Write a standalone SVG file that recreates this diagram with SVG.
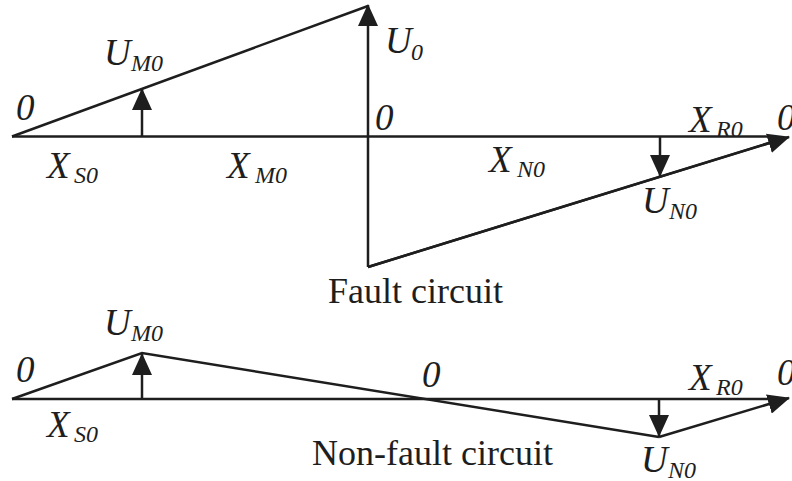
<svg xmlns="http://www.w3.org/2000/svg" width="792" height="481" viewBox="0 0 792 481">
<defs>
<marker id="ah" markerUnits="userSpaceOnUse" markerWidth="22" markerHeight="20" viewBox="0 0 22 20" refX="21" refY="10" orient="auto">
<path d="M0,0 L22,10 L0,20 z" fill="#1e1e1e"/>
</marker>
<style>
.ln{stroke:#1e1e1e;stroke-width:2.5;fill:none;stroke-linejoin:miter}
.ar{stroke:#1e1e1e;stroke-width:2.5;fill:none;marker-end:url(#ah)}
.lb{font-family:"Liberation Serif","Times New Roman",serif;font-style:italic;font-size:37px;fill:#1e1e1e}
.sb{font-size:24px}
.tt{font-family:"Liberation Serif","Times New Roman",serif;font-size:36px;fill:#1e1e1e}
</style>
</defs>
<rect width="792" height="481" fill="#ffffff"/>
<g id="connectors">
<!-- fault circuit -->
<line class="ln" x1="12" y1="136.5" x2="776" y2="136.5"/>
<line class="ln" x1="12" y1="136.5" x2="368" y2="6"/>
<line class="ar" x1="368" y1="267" x2="368" y2="5"/>
<line class="ln" x1="368" y1="267" x2="772" y2="142"/>
<line class="ar" x1="368" y1="267" x2="789" y2="137"/>
<line class="ar" x1="142" y1="136.5" x2="142" y2="89"/>
<line class="ar" x1="660" y1="136.5" x2="660" y2="176"/>
<!-- non-fault circuit -->
<line class="ln" x1="12" y1="399" x2="776" y2="399"/>
<polyline class="ln" points="12,399 142,353 659,437"/>
<line class="ar" x1="659" y1="437" x2="789" y2="398"/>
<line class="ar" x1="142" y1="399" x2="142" y2="354"/>
<line class="ar" x1="659" y1="399" x2="659" y2="436"/>
</g>
<g id="fault-labels">
<text class="lb" x="16" y="120">0</text>
<text class="lb" x="104" y="65">U<tspan class="sb" x="131" y="71">M0</tspan></text>
<text class="lb" x="385" y="53">U<tspan class="sb" x="411" y="60">0</tspan></text>
<text class="lb" x="375" y="130">0</text>
<text class="lb" x="47" y="178">X<tspan class="sb" x="74" y="183">S0</tspan></text>
<text class="lb" x="227" y="178">X<tspan class="sb" x="255" y="183">M0</tspan></text>
<text class="lb" x="489" y="172">X<tspan class="sb" x="517" y="177">N0</tspan></text>
<text class="lb" x="689" y="132">X<tspan class="sb" x="716" y="137">R0</tspan></text>
<text class="lb" x="777" y="130">0</text>
<text class="lb" x="642" y="213">U<tspan class="sb" x="669" y="219">N0</tspan></text>
<text class="tt" x="328" y="303">Fault circuit</text>
</g>
<g id="nonfault-labels">
<text class="lb" x="16" y="382">0</text>
<text class="lb" x="104" y="335">U<tspan class="sb" x="131" y="341">M0</tspan></text>
<text class="lb" x="422" y="387">0</text>
<text class="lb" x="689" y="390">X<tspan class="sb" x="716" y="395">R0</tspan></text>
<text class="lb" x="777" y="385">0</text>
<text class="lb" x="47" y="437">X<tspan class="sb" x="74" y="442">S0</tspan></text>
<text class="lb" x="641" y="472">U<tspan class="sb" x="668" y="478">N0</tspan></text>
<text class="tt" x="312" y="465">Non-fault circuit</text>
</g>
</svg>
